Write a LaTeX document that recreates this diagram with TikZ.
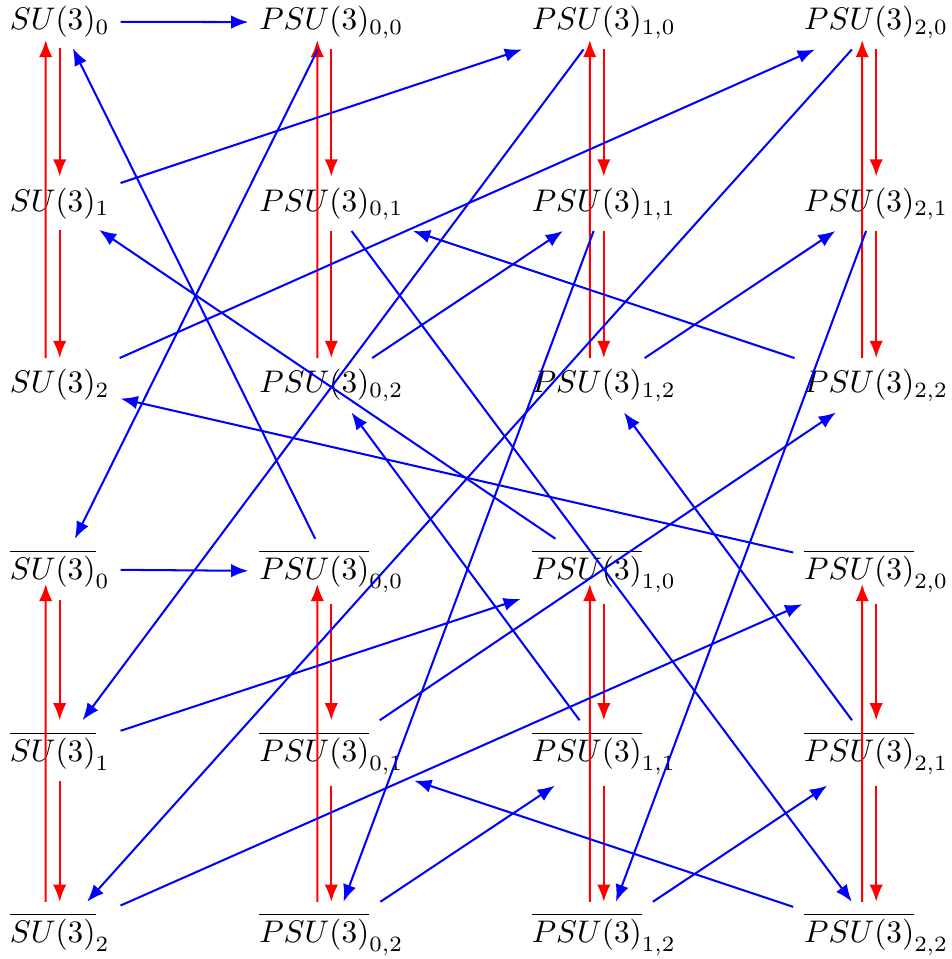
\documentclass[tikz,border=0pt]{standalone}
\usetikzlibrary{arrows.meta,calc}
\begin{document}
\begin{tikzpicture}[x=0.32pt,y=-0.32pt,
  lbl/.style={anchor=base, inner sep=3.33pt, outer sep=0.2pt},
  bl/.style={draw=blue, line width=0.65pt, -{Latex[length=5.5pt,width=4.3pt]}},
  rd/.style={draw=red, line width=0.65pt, -{Latex[length=5.5pt,width=4.3pt]}}]
\useasboundingbox (0,0) rectangle (951,959);
% top block
\node[lbl] (A0) at (59.7,29.5) {$SU(3)_0$};
\node[lbl] (A1) at (59.7,211) {$SU(3)_1$};
\node[lbl] (A2) at (59.7,392.5) {$SU(3)_2$};
\node[lbl] (B00) at (331.3,29.5) {$PSU(3)_{0,0}$};
\node[lbl] (B01) at (331.3,211) {$PSU(3)_{0,1}$};
\node[lbl] (B02) at (331.3,392.5) {$PSU(3)_{0,2}$};
\node[lbl] (B10) at (603.8,29.5) {$PSU(3)_{1,0}$};
\node[lbl] (B11) at (603.8,211) {$PSU(3)_{1,1}$};
\node[lbl] (B12) at (603.8,392.5) {$PSU(3)_{1,2}$};
\node[lbl] (B20) at (876.2,29.5) {$PSU(3)_{2,0}$};
\node[lbl] (B21) at (876.2,211) {$PSU(3)_{2,1}$};
\node[lbl] (B22) at (876.2,392.5) {$PSU(3)_{2,2}$};
% bottom block
\node[lbl] (Ab0) at (59.7,579.5) {$\overline{SU(3)}_0$};
\node[lbl] (Ab1) at (59.7,761) {$\overline{SU(3)}_1$};
\node[lbl] (Ab2) at (59.7,942.5) {$\overline{SU(3)}_2$};
\node[lbl] (Bb00) at (331.3,579.5) {$\overline{PSU(3)}_{0,0}$};
\node[lbl] (Bb01) at (331.3,761) {$\overline{PSU(3)}_{0,1}$};
\node[lbl] (Bb02) at (331.3,942.5) {$\overline{PSU(3)}_{0,2}$};
\node[lbl] (Bb10) at (603.8,579.5) {$\overline{PSU(3)}_{1,0}$};
\node[lbl] (Bb11) at (603.8,761) {$\overline{PSU(3)}_{1,1}$};
\node[lbl] (Bb12) at (603.8,942.5) {$\overline{PSU(3)}_{1,2}$};
\node[lbl] (Bb20) at (876.2,579.5) {$\overline{PSU(3)}_{2,0}$};
\node[lbl] (Bb21) at (876.2,761) {$\overline{PSU(3)}_{2,1}$};
\node[lbl] (Bb22) at (876.2,942.5) {$\overline{PSU(3)}_{2,2}$};
% red arrows
\foreach \n/\d in {A/10.5,B0/10.5,B1/10.5,B2/10.5,Ab/4.5,Bb0/4.5,Bb1/4.5,Bb2/4.5} {
  \draw[rd] ([xshift=-4.48pt]\n2.north) -- ($(\n0.base)+(-14,\d)$);
  \draw[rd] (\n0) -- (\n1);
  \draw[rd] (\n1) -- (\n2);
}
% blue arrows
\draw[bl] (A0) -- (B00);
\draw[bl] (A1) -- (B10);
\draw[bl] (A2) -- (B20);
\draw[bl] (B00) -- (Ab0);
\draw[bl] (B10) -- (Ab1);
\draw[bl] (B20) -- (Ab2);
\draw[bl] (Bb00) -- (A0);
\draw[bl] (Bb10) -- (A1);
\draw[bl] (Bb20) -- (A2);
\draw[bl] (Ab0) -- (Bb00);
\draw[bl] (Ab1) -- (Bb10);
\draw[bl] (Ab2) -- (Bb20);
\draw[bl] (B01) -- (Bb22);
\draw[bl] (B11) -- (Bb02);
\draw[bl] (B21) -- (Bb12);
\draw[bl] (Bb01) -- (B22);
\draw[bl] (Bb11) -- (B02);
\draw[bl] (Bb21) -- (B12);
\draw[bl] (B02) -- (B11);
\draw[bl] (B12) -- (B21);
\draw[bl] (B22) -- (B01);
\draw[bl] (Bb02) -- (Bb11);
\draw[bl] (Bb12) -- (Bb21);
\draw[bl] (Bb22) -- (Bb01);
\end{tikzpicture}
\end{document}
